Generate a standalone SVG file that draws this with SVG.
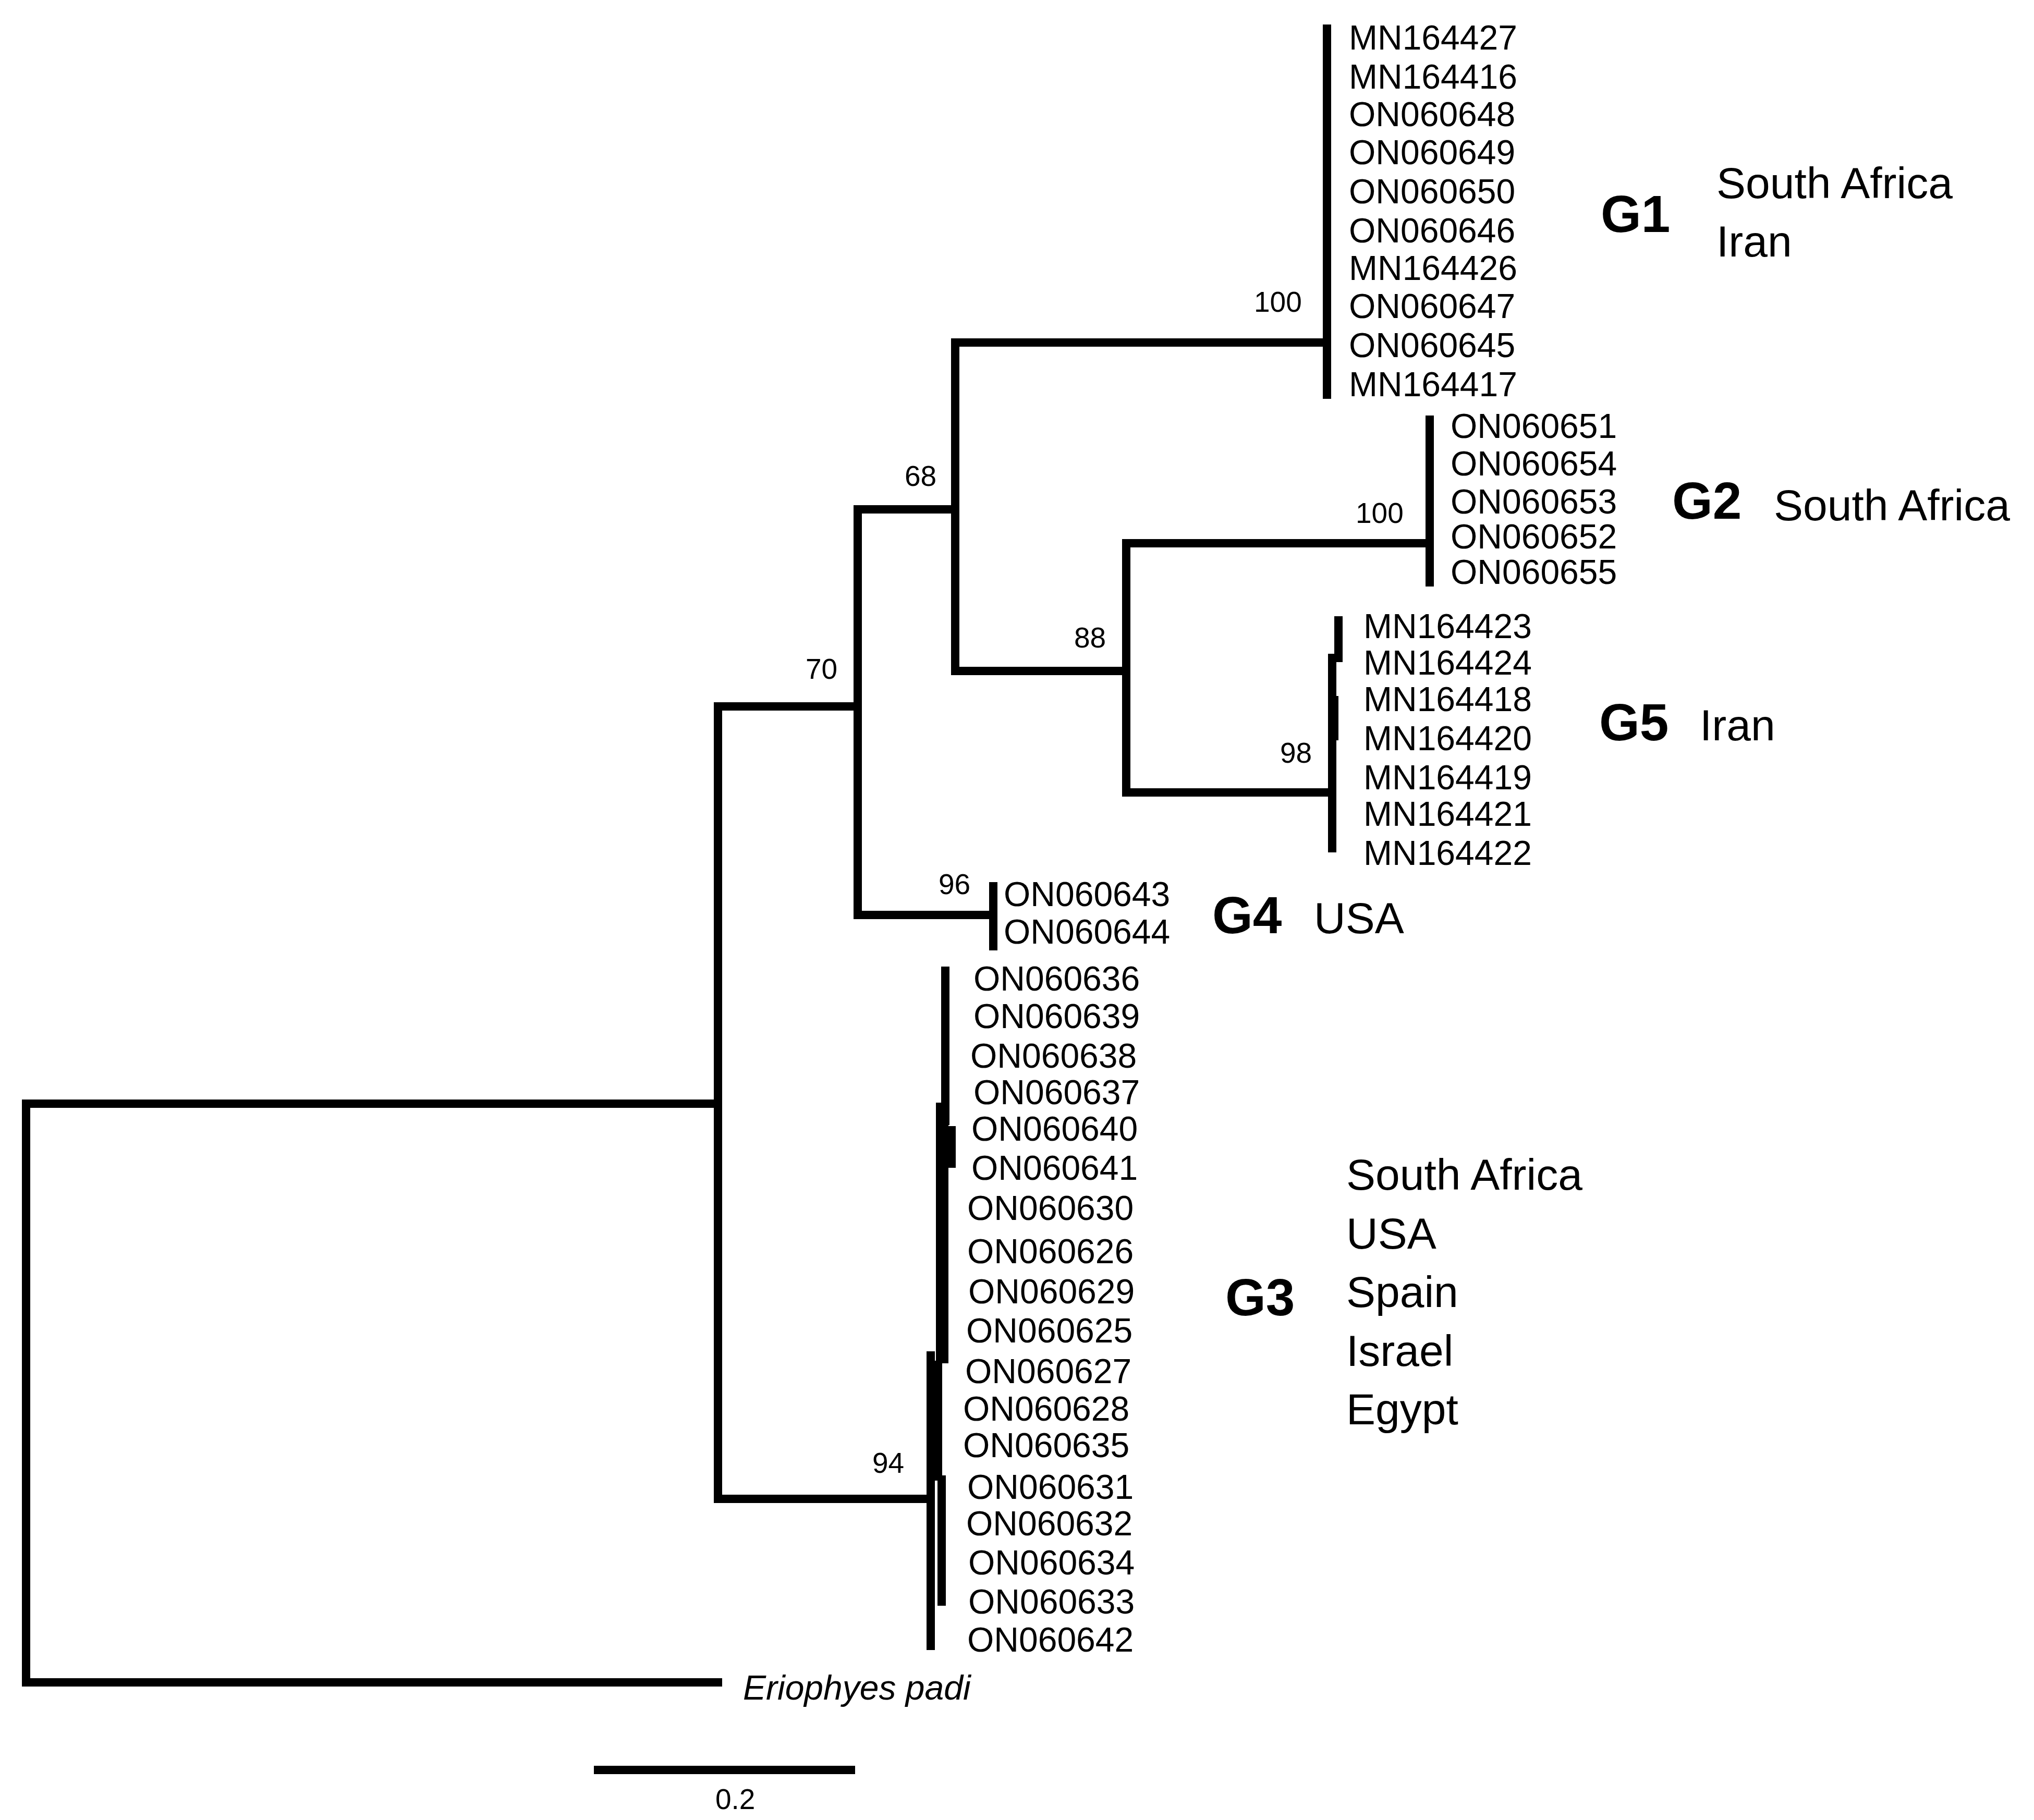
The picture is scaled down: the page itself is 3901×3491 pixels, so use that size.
<svg xmlns="http://www.w3.org/2000/svg" width="3901" height="3491" viewBox="0 0 3901 3491">
<style>
.l{stroke:#000;stroke-width:16;fill:none;stroke-linecap:square}
.t{font-family:"Liberation Sans",Arial,sans-serif;font-size:66px;fill:#000}
.s{font-family:"Liberation Sans",Arial,sans-serif;font-size:55px;fill:#000}
.g{font-family:"Liberation Sans",Arial,sans-serif;font-size:100px;font-weight:bold;fill:#000}
.c{font-family:"Liberation Sans",Arial,sans-serif;font-size:84px;fill:#000}
</style>
<rect width="3901" height="3491" fill="#fff"/>
<g id="connectors">
<path class="l" d="M1377 2117H50V3227H1377"/>
<path class="l" d="M1645 1355H1377V2875H1785"/>
<path class="l" d="M1832 977H1645V1755H1905"/>
<path class="l" d="M2545 657H1832V1287H2160"/>
<path class="l" d="M2742 1042H2160V1520H2555"/>
<path class="l" d="M2545 55V757"/>
<path class="l" d="M2742 805V1117"/>
<path class="l" d="M2555 1262V1627"/>
<path class="l" stroke-width="12" d="M2567 1190V1262"/>
<rect x="2547" y="1335" width="20" height="85"/>
<path class="l" d="M1905 1700V1815"/>
<path class="l" d="M1785 2600V3157"/>
<path class="l" d="M1813 1862V2150"/>
<rect x="1795" y="2115" width="24" height="500"/>
<rect x="1815" y="2160" width="18" height="80"/>
<rect x="1785" y="2610" width="22" height="230"/>
<rect x="1798" y="2830" width="16" height="250"/>
<path class="l" d="M1147 3395H1632"/>
</g>
<g id="supports">
<text class="s" x="2405" y="598">100</text>
<text class="s" x="1735" y="932">68</text>
<text class="s" x="1545" y="1302">70</text>
<text class="s" x="2060" y="1242">88</text>
<text class="s" x="2600" y="1003">100</text>
<text class="s" x="2455" y="1463">98</text>
<text class="s" x="1800" y="1715">96</text>
<text class="s" x="1673" y="2825">94</text>
<text class="s" x="1372" y="3470">0.2</text>
</g>
<g id="G1">
<text class="t" x="2587" y="95">MN164427</text>
<text class="t" x="2587" y="170">MN164416</text>
<text class="t" x="2587" y="242">ON060648</text>
<text class="t" x="2587" y="315">ON060649</text>
<text class="t" x="2587" y="390">ON060650</text>
<text class="t" x="2587" y="465">ON060646</text>
<text class="t" x="2587" y="537">MN164426</text>
<text class="t" x="2587" y="610">ON060647</text>
<text class="t" x="2587" y="685">ON060645</text>
<text class="t" x="2587" y="760">MN164417</text>
<text class="g" x="3070" y="445">G1</text>
<text class="c" x="3292" y="380">South Africa</text>
<text class="c" x="3292" y="492">Iran</text>
</g>
<g id="G2">
<text class="t" x="2782" y="840">ON060651</text>
<text class="t" x="2782" y="912">ON060654</text>
<text class="t" x="2782" y="985">ON060653</text>
<text class="t" x="2782" y="1052">ON060652</text>
<text class="t" x="2782" y="1120">ON060655</text>
<text class="g" x="3207" y="995">G2</text>
<text class="c" x="3402" y="998">South Africa</text>
</g>
<g id="G5">
<text class="t" x="2615" y="1224">MN164423</text>
<text class="t" x="2615" y="1294">MN164424</text>
<text class="t" x="2615" y="1364">MN164418</text>
<text class="t" x="2615" y="1439">MN164420</text>
<text class="t" x="2615" y="1514">MN164419</text>
<text class="t" x="2615" y="1584">MN164421</text>
<text class="t" x="2615" y="1659">MN164422</text>
<text class="g" x="3067" y="1420">G5</text>
<text class="c" x="3260" y="1420">Iran</text>
</g>
<g id="G4">
<text class="t" x="1925" y="1738">ON060643</text>
<text class="t" x="1925" y="1810">ON060644</text>
<text class="g" x="2325" y="1790">G4</text>
<text class="c" x="2520" y="1790">USA</text>
</g>
<g id="G3">
<text class="t" x="1867" y="1900">ON060636</text>
<text class="t" x="1867" y="1972">ON060639</text>
<text class="t" x="1861" y="2048">ON060638</text>
<text class="t" x="1867" y="2118">ON060637</text>
<text class="t" x="1863" y="2188">ON060640</text>
<text class="t" x="1863" y="2263">ON060641</text>
<text class="t" x="1855" y="2340">ON060630</text>
<text class="t" x="1855" y="2423">ON060626</text>
<text class="t" x="1857" y="2500">ON060629</text>
<text class="t" x="1853" y="2575">ON060625</text>
<text class="t" x="1851" y="2653">ON060627</text>
<text class="t" x="1847" y="2725">ON060628</text>
<text class="t" x="1847" y="2795">ON060635</text>
<text class="t" x="1855" y="2875">ON060631</text>
<text class="t" x="1853" y="2945">ON060632</text>
<text class="t" x="1857" y="3020">ON060634</text>
<text class="t" x="1857" y="3095">ON060633</text>
<text class="t" x="1855" y="3168">ON060642</text>
<text class="g" x="2350" y="2523">G3</text>
<text class="c" x="2582" y="2282">South Africa</text>
<text class="c" x="2582" y="2395">USA</text>
<text class="c" x="2582" y="2507">Spain</text>
<text class="c" x="2582" y="2620">Israel</text>
<text class="c" x="2582" y="2732">Egypt</text>
</g>
<g id="outgroup">
<text class="t" x="1425" y="3260" font-style="italic">Eriophyes padi</text>
</g>
</svg>
